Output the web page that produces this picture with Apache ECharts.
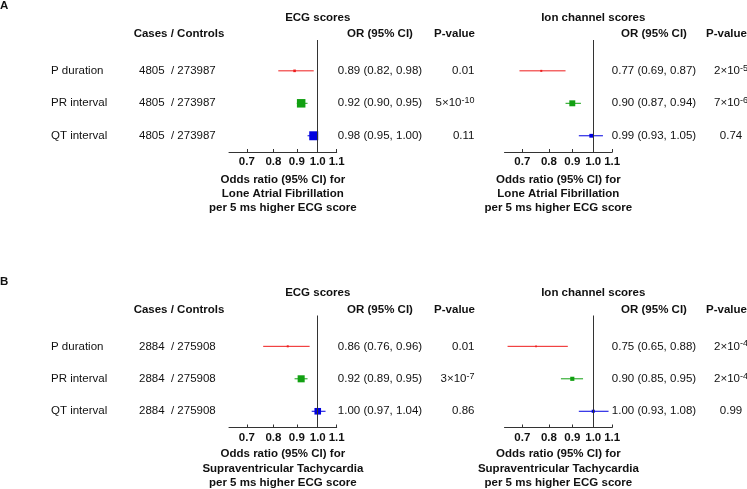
<!DOCTYPE html>
<html><head><meta charset="utf-8">
<script src="https://cdn.jsdelivr.net/npm/echarts@6/dist/echarts.min.js"></script>
<style>html,body{margin:0;padding:0;background:#fff}#c{width:747px;height:489px}</style>
</head><body><div id="c"></div>
<script>
// ---------- data ----------
const rowLabels = ['P duration', 'PR interval', 'QT interval'];
const rowIds = [1, 2, 3];
const tickValues = [0.7, 0.8, 0.9, 1.0, 1.1];
const panelLetters = ['A', 'B'];
const outcomes = ['Lone Atrial Fibrillation', 'Supraventricular Tachycardia'];
const scoreTitles = ['ECG scores', 'Ion channel scores'];
const cases = [4805, 2884];
const controls = [273987, 275908];

const ecgA_or = [0.89, 0.92, 0.98];
const ecgA_lo = [0.82, 0.90, 0.95];
const ecgA_hi = [0.98, 0.95, 1.00];
const ecgA_p  = ['0.01', '5×10^-10', '0.11'];

const ionA_or = [0.77, 0.90, 0.99];
const ionA_lo = [0.69, 0.87, 0.93];
const ionA_hi = [0.87, 0.94, 1.05];
const ionA_p  = ['2×10^-5', '7×10^-6', '0.74'];

const ecgB_or = [0.86, 0.92, 1.00];
const ecgB_lo = [0.76, 0.89, 0.97];
const ecgB_hi = [0.96, 0.95, 1.04];
const ecgB_p  = ['0.01', '3×10^-7', '0.86'];

const ionB_or = [0.75, 0.90, 1.00];
const ionB_lo = [0.65, 0.85, 0.93];
const ionB_hi = [0.88, 0.95, 1.08];
const ionB_p  = ['2×10^-4', '2×10^-4', '0.99'];

// ---------- style / layout ----------
const FONT = "'Liberation Sans', Arial, sans-serif";
const FS = 11.5;
const TXT = '#111';
const rowColors = ['#ee1c1c', '#12a012', '#0000e0'];
const gridLeftX = [229, 504.5];
const gridW = 107.7;
const gridTop = [40, 315.5];
const gridH = 112;

const panels = [
  {r: 0, c: 0, or: ecgA_or, lo: ecgA_lo, hi: ecgA_hi, p: ecgA_p},
  {r: 0, c: 1, or: ionA_or, lo: ionA_lo, hi: ionA_hi, p: ionA_p},
  {r: 1, c: 0, or: ecgB_or, lo: ecgB_lo, hi: ecgB_hi, p: ecgB_p},
  {r: 1, c: 1, or: ionB_or, lo: ionB_lo, hi: ionB_hi, p: ionB_p}
];

function boxSize(lo, hi) { return Math.max(1.6, 0.46 / Math.log(hi / lo)); }

const chart = echarts.init(document.getElementById('c'), null, {renderer: 'canvas'});

const grids = [], xAxes = [], yAxes = [], series = [];
panels.forEach((pn, k) => {
  grids.push({left: gridLeftX[pn.c], top: gridTop[pn.r], width: gridW, height: gridH, outerBoundsMode: 'none'});
  xAxes.push({
    type: 'log', gridIndex: k, min: 0.64, max: 1.1, logBase: 10,
    splitLine: {show: false},
    axisLine: {show: true, lineStyle: {color: '#333', width: 1}},
    axisTick: {show: true, inside: true, length: 3, customValues: tickValues, lineStyle: {color: '#333', width: 1}},
    axisLabel: {customValues: tickValues, formatter: v => Number(v).toFixed(1), fontWeight: 'bold',
      fontSize: FS, fontFamily: FONT, color: TXT, margin: 4},
    name: 'Odds ratio (95% CI) for\n' + outcomes[pn.r] + '\nper 5 ms higher ECG score',
    nameLocation: 'middle', nameGap: pn.r === 0 ? 21 : 19.5,
    nameTextStyle: {fontWeight: 'bold', fontSize: FS, fontFamily: FONT, color: TXT, lineHeight: pn.r === 0 ? 13.8 : 14.4}
  });
  yAxes.push({type: 'value', gridIndex: k, min: 0.05, max: 3.5, inverse: true, show: false});
  series.push({
    type: 'custom', xAxisIndex: k, yAxisIndex: k,
    data: rowIds.map((id, i) => [pn.or[i], pn.lo[i], pn.hi[i], id, i, boxSize(pn.lo[i], pn.hi[i])]),
    encode: {x: [0, 1, 2], y: 3},
    renderItem: (params, api) => {
      const row = api.value(3);
      const c = api.coord([api.value(0), row]);
      const l = api.coord([api.value(1), row]);
      const h = api.coord([api.value(2), row]);
      const col = rowColors[api.value(4)];
      const s = api.value(5);
      return {type: 'group', children: [
        {type: 'line', shape: {x1: l[0], y1: c[1], x2: h[0], y2: c[1]}, style: {stroke: col, lineWidth: 1}},
        {type: 'rect', shape: {x: c[0] - s / 2, y: c[1] - s / 2, width: s, height: s}, style: {fill: col}}
      ]};
    },
    markLine: {silent: true, symbol: 'none', label: {show: false},
      lineStyle: {color: '#333', type: 'solid', width: 1}, data: [{xAxis: 1}]},
    z: 3
  });
});

chart.setOption({
  animation: false,
  backgroundColor: '#fff',
  grid: grids, xAxis: xAxes, yAxis: yAxes, series: series
});

// ---------- text columns ----------
function richP(str) {
  const m = str.split('^');
  if (m.length === 1) return '{b|' + str + '}';
  return '{b|' + m[0] + '}{s|' + m[1] + '}';
}
const rich = {
  b: {fontSize: FS, fontFamily: FONT, lineHeight: 14, fill: TXT},
  s: {fontSize: 9, fontFamily: FONT, lineHeight: 4, verticalAlign: 'top', fill: TXT}
};
function txt(text, x, y, align, bold, extra) {
  return Object.assign({
    type: 'text', silent: true,
    style: {text: text, x: x, y: y, textAlign: align, textVerticalAlign: 'middle',
      font: (bold ? 'bold ' : '') + FS + 'px ' + FONT, fill: TXT}
  }, extra || {});
}
const g = [];
[0, 1].forEach(r => {
  const top = gridTop[r];
  g.push(txt(panelLetters[r], 0, top - 34, 'left', true));
  g.push(txt('Cases / Controls', 179, top - 5.7, 'center', true));
  [0, 1].forEach(c => {
    const k = r * 2 + c;
    const x1 = chart.convertToPixel({xAxisIndex: k}, 1);
    g.push(txt(scoreTitles[c], x1, top - 22.3, 'center', true));
  });
  g.push(txt('OR (95% CI)', 380, top - 5.7, 'center', true));
  g.push(txt('P-value', 475, top - 5.7, 'right', true));
  g.push(txt('OR (95% CI)', 654, top - 5.7, 'center', true));
  g.push(txt('P-value', 726.5, top - 5.7, 'center', true));
  rowIds.forEach((id, i) => {
    const y = chart.convertToPixel({yAxisIndex: r * 2}, id);
    g.push(txt(rowLabels[i], 51, y, 'left', false));
    g.push(txt(cases[r] + '  / ' + controls[r], 139, y, 'left', false));
    [0, 1].forEach(c => {
      const pn = panels[r * 2 + c];
      const orStr = pn.or[i].toFixed(2) + ' (' + pn.lo[i].toFixed(2) + ', ' + pn.hi[i].toFixed(2) + ')';
      g.push(txt(orStr, c === 0 ? 380 : 654, y, 'center', false));
      const pt = txt(richP(pn.p[i]), c === 0 ? 474.5 : 731, y, c === 0 ? 'right' : 'center', false);
      pt.style.rich = rich;
      g.push(pt);
    });
  });
});
chart.setOption({graphic: g});
</script></body></html>
